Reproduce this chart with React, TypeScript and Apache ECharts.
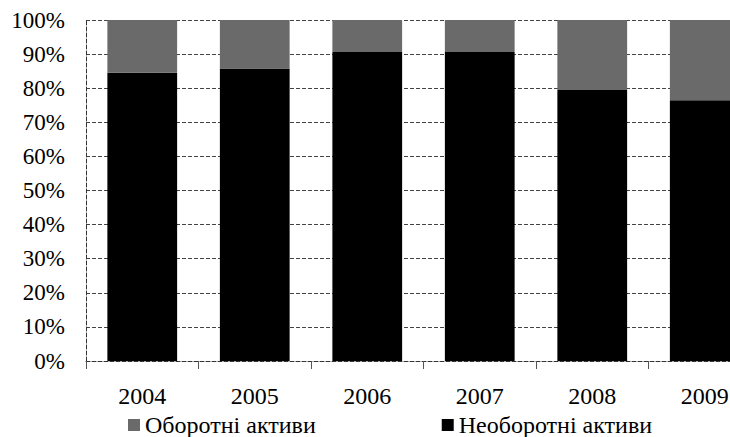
import React, { useEffect, useRef } from "react";
import * as echarts from "echarts";

const years = ["2004", "2005", "2006", "2007", "2008", "2009"];
const nonCurrent = [84.5, 85.8, 90.6, 90.6, 79.5, 76.5];
const current = [15.5, 14.2, 9.4, 9.4, 20.5, 23.5];
const yTicks = [0, 10, 20, 30, 40, 50, 60, 70, 80, 90, 100];

export default function App() {
  const ref = useRef<HTMLDivElement>(null);
  useEffect(() => {
    if (!ref.current) return;
    const chart = echarts.init(ref.current, undefined, { renderer: "svg" });
    const font = "'Liberation Serif', 'Times New Roman', serif";
    chart.setOption({
      animation: false,
      backgroundColor: "#ffffff",
      textStyle: { fontFamily: font },
      grid: {
        left: 86,
        top: 20,
        width: 675,
        height: 341,
        containLabel: false,
        outerBoundsMode: "none",
      },
      legend: {
        data: ["Оборотні активи", "Необоротні активи"],
        left: 128,
        top: 413,
        padding: 0,
        itemWidth: 12,
        itemHeight: 12,
        itemGap: 126,
        icon: "rect",
        textStyle: { fontFamily: font, fontSize: 24, lineHeight: 24, color: "#000" },
      },
      xAxis: {
        type: "category",
        data: years,
        axisLine: { lineStyle: { color: "#333", type: "dashed", width: 1 } },
        axisTick: { show: true, length: 8, lineStyle: { color: "#555" } },
        axisLabel: { fontFamily: font, fontSize: 24, color: "#000", margin: 23 },
      },
      yAxis: {
        type: "value",
        min: 0,
        max: 100,
        interval: 10,
        axisLine: { show: true, lineStyle: { color: "#333", type: "dashed", width: 1 } },
        axisTick: { show: false },
        splitLine: { lineStyle: { color: "#444", type: "dashed", width: 1 } },
        axisLabel: {
          fontFamily: font,
          fontSize: 23,
          color: "#000",
          margin: 21,
          formatter: (v: number) => (yTicks.includes(v) ? v + "%" : ""),
        },
      },
      series: [
        {
          name: "Необоротні активи",
          type: "bar",
          stack: "total",
          barWidth: "62%",
          data: nonCurrent,
          itemStyle: { color: "#000000" },
        },
        {
          name: "Оборотні активи",
          type: "bar",
          stack: "total",
          barWidth: "62%",
          data: current,
          itemStyle: { color: "#6a6a6a" },
        },
      ],
    });
    return () => chart.dispose();
  }, []);
  return (
    <div
      ref={ref}
      style={{ position: "absolute", left: 0, top: 0, width: 730, height: 437 }}
    />
  );
}
